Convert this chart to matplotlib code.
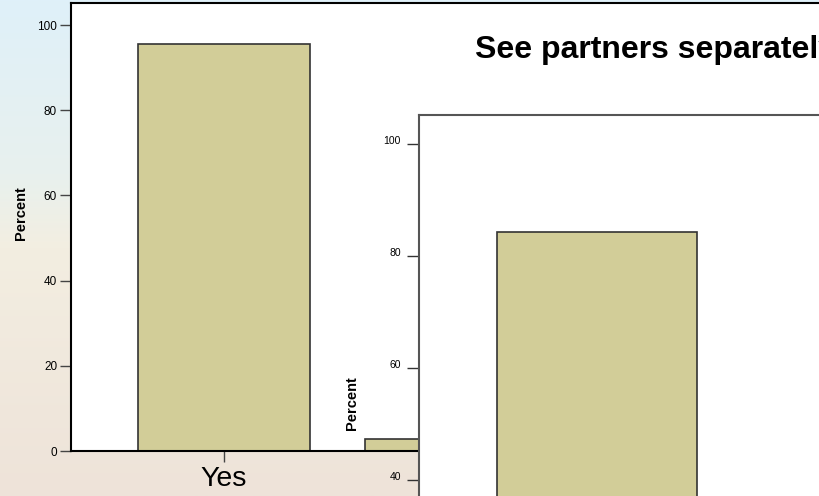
import numpy as np
import matplotlib
matplotlib.use("Agg")
import matplotlib.pyplot as plt
from matplotlib.colors import LinearSegmentedColormap

plt.rcParams['font.family'] = ['Liberation Sans', 'DejaVu Sans']

# main chart data (only the first bar is fully visible)
categories = ["Yes", "No", "Don't know"]
percent = [95.5, 2.8, 1.7]

# inset chart: see partners separately
inset_categories = ["Yes", "No"]
inset_percent = [84.3, 15.7]

main_yticks = [0, 20, 40, 60, 80, 100]
inset_yticks = [40, 60, 80, 100]

bar_color = '#d2cd98'
edge_color = '#333333'

fig = plt.figure(figsize=(8.2, 4.96), dpi=100)

# slide background gradient
bg = fig.add_axes([0, 0, 1, 1], zorder=-10)
cmap = LinearSegmentedColormap.from_list(
    'slide', [(0.0, '#dff0f9'), (0.35, '#e8f1ee'), (0.5, '#f3eee1'), (1.0, '#eee3d9')])
grad = np.linspace(0, 1, 256).reshape(-1, 1)
bg.imshow(grad, aspect='auto', cmap=cmap, extent=[0, 1, 0, 1], origin='upper')
bg.set_axis_off()

# main chart
ax = fig.add_axes([71 / 820, 45 / 496, 760 / 820, 448 / 496])
ax.set_facecolor('white')
x = np.arange(len(categories))
ax.bar(x, percent, width=0.758, color=bar_color, edgecolor=edge_color, linewidth=1.2)
ax.set_xlim(-0.674, len(categories) - 1 + 0.674)
ax.set_ylim(0, 105.2)
ax.set_yticks(main_yticks)
ax.set_xticks(x)
ax.set_xticklabels(categories, fontsize=20.5)
ax.tick_params(axis='y', length=8, width=1, color='#444444', labelsize=8.5, pad=2)
ax.tick_params(axis='x', length=8, width=1, color='#444444', pad=3)
for s in ax.spines.values():
    s.set_linewidth(1.5)
    s.set_color('black')
ax.set_ylabel('Percent', fontsize=10.5, fontweight='bold')
ax.yaxis.set_label_coords(-0.0566, 0.531)

# inset chart drawn over the main one
ins = fig.add_axes([419 / 820, -208 / 496, 884 / 820, 589 / 496])
ins.set_facecolor('white')
xi = np.arange(len(inset_categories))
ins.bar(xi, inset_percent, width=0.758, color=bar_color, edgecolor=edge_color, linewidth=1.2)
ins.set_xlim(-0.674, 2.674)
ins.set_ylim(0, 105.2)
ins.set_yticks(inset_yticks)
ins.set_xticks([])
ins.tick_params(axis='y', length=9, width=1, color='#333333', labelsize=7.5, pad=4)
for lab in ins.get_yticklabels():
    lab.set_verticalalignment('baseline')
for s in ins.spines.values():
    s.set_linewidth(1.5)
    s.set_color('#555555')
ins.set_ylabel('Percent', fontsize=10.5, fontweight='bold')
ins.yaxis.set_label_coords(-0.0679, 0.511)

fig.text(475 / 820, 1 - 50 / 496, 'See partners separately', fontsize=23,
         fontweight='bold', ha='left', va='center')

fig.savefig('out.png', dpi=100)
